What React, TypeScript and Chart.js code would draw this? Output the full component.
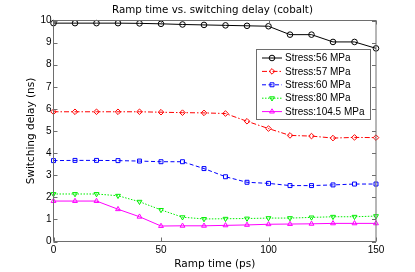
import React, { useEffect, useRef } from "react";
import { Chart, registerables } from "chart.js";
import { drawPoint } from "chart.js/helpers";

Chart.register(...registerables);

const rampTimes = [0, 10, 20, 30, 40, 50, 60, 70, 80, 90, 100, 110, 120, 130, 140, 150];
const stress56 = [9.88, 9.88, 9.88, 9.88, 9.87, 9.85, 9.82, 9.8, 9.78, 9.76, 9.74, 9.36, 9.36, 9.03, 9.03, 8.74];
const stress57 = [5.87, 5.87, 5.87, 5.87, 5.87, 5.85, 5.83, 5.82, 5.79, 5.44, 5.11, 4.8, 4.77, 4.68, 4.71, 4.7];
const stress60 = [3.66, 3.67, 3.67, 3.66, 3.64, 3.61, 3.61, 3.3, 2.93, 2.68, 2.63, 2.53, 2.53, 2.56, 2.6, 2.6];
const stress80 = [2.15, 2.15, 2.15, 2.07, 1.8, 1.43, 1.1, 1.02, 1.03, 1.04, 1.06, 1.06, 1.09, 1.12, 1.12, 1.15];
const stress104 = [1.83, 1.83, 1.83, 1.46, 1.12, 0.7, 0.71, 0.71, 0.73, 0.75, 0.78, 0.79, 0.8, 0.82, 0.82, 0.82];
const seriesLabels = ["Stress:56 MPa", "Stress:57 MPa", "Stress:60 MPa", "Stress:80 MPa", "Stress:104.5 MPa"];
const yTicks = [0, 1, 2, 3, 4, 5, 6, 7, 8, 9, 10];
const xTicks = [0, 50, 100, 150];
const titleText = "Ramp time vs. switching delay (cobalt)";
const xTitle = "Ramp time (ps)";
const yTitle = "Switching delay (ns)";

const styles = [
  { color: "#000000", dash: [] as number[], point: "circle", rot: 0 },
  { color: "#ff0000", dash: [5, 2, 1.5, 2], point: "rectRot", rot: 0 },
  { color: "#0000ff", dash: [4, 2.5], point: "rect", rot: 0 },
  { color: "#00ee00", dash: [1.5, 1.5], point: "triangle", rot: 180 },
  { color: "#ff00ff", dash: [] as number[], point: "triangle", rot: 0 },
];
const seriesValues = [stress56, stress57, stress60, stress80, stress104];

const AXIS = "#6e6e6e";

const boxPlugin = {
  id: "boxPlugin",
  afterDatasetsDraw(chart: any) {
    const { ctx, chartArea } = chart;
    const { left, right, top, bottom } = chartArea;
    const xs = chart.scales.x;
    const ys = chart.scales.y;
    ctx.save();
    ctx.strokeStyle = AXIS;
    ctx.lineWidth = 1;
    ctx.setLineDash([]);
    ctx.beginPath();
    ctx.rect(left, top, right - left, bottom - top);
    ctx.stroke();
    const tl = 4;
    ctx.beginPath();
    yTicks.forEach((v) => {
      const y = Math.round(ys.getPixelForValue(v)) + 0.5;
      ctx.moveTo(left, y);
      ctx.lineTo(left + tl, y);
      ctx.moveTo(right, y);
      ctx.lineTo(right - tl, y);
    });
    xTicks.forEach((v) => {
      const x = Math.round(xs.getPixelForValue(v)) + 0.5;
      ctx.moveTo(x, bottom);
      ctx.lineTo(x, bottom - tl);
      ctx.moveTo(x, top);
      ctx.lineTo(x, top + tl);
    });
    ctx.stroke();

    // title, sized to the reference's width
    ctx.fillStyle = "#000";
    ctx.font = "10px 'DejaVu Sans', sans-serif";
    const w10 = ctx.measureText(titleText).width;
    const size = Math.min(11, (10 * 201) / w10);
    ctx.font = `${size.toFixed(2)}px 'DejaVu Sans', sans-serif`;
    ctx.textAlign = "center";
    ctx.textBaseline = "middle";
    ctx.fillText(titleText, 212.5, 10);

    // legend
    const lx = 256.5, ly = 49.5, lw = 114, lh = 70;
    ctx.fillStyle = "#ffffff";
    ctx.fillRect(lx, ly, lw, lh);
    ctx.strokeStyle = AXIS;
    ctx.strokeRect(lx, ly, lw, lh);
    ctx.font = "10px 'Liberation Sans', Arial, sans-serif";
    ctx.textBaseline = "middle";
    ctx.textAlign = "left";
    seriesLabels.forEach((lab, i) => {
      const st = styles[i];
      const y = 58 + i * 13.4;
      ctx.strokeStyle = st.color;
      ctx.lineWidth = 1;
      ctx.setLineDash(st.dash);
      ctx.beginPath();
      ctx.moveTo(262, y);
      ctx.lineTo(282, y);
      ctx.stroke();
      ctx.setLineDash([]);
      ctx.fillStyle = "rgba(0,0,0,0)";
      ctx.strokeStyle = st.color;
      drawPoint(ctx, { pointStyle: st.point, radius: 2.8, rotation: st.rot, borderWidth: 1 } as any, 272, y);
      ctx.fillStyle = "#000";
      ctx.fillText(lab, 285, y + 0.5);
    });
    ctx.restore();
  },
};

export default function App() {
  const ref = useRef<HTMLCanvasElement>(null);
  useEffect(() => {
    document.body.style.margin = "0";
    const c = ref.current!;
    const datasets = seriesValues.map((vals, i) => ({
      label: seriesLabels[i],
      data: vals.map((v, j) => ({ x: rampTimes[j], y: v })),
      borderColor: styles[i].color,
      backgroundColor: "rgba(0,0,0,0)",
      pointBackgroundColor: "rgba(0,0,0,0)",
      pointBorderColor: styles[i].color,
      borderWidth: 1,
      borderDash: styles[i].dash,
      pointStyle: styles[i].point,
      pointRotation: styles[i].rot,
      pointRadius: 2.8,
      pointBorderWidth: 1,
      tension: 0,
      clip: false as any,
    }));
    const chart = new Chart(c, {
      type: "line",
      data: { datasets },
      options: {
        animation: false,
        responsive: false,
        maintainAspectRatio: false,
        layout: { padding: { left: 0, right: 39, top: 20.5, bottom: 0 } },
        plugins: {
          legend: { display: false },
          tooltip: { enabled: false },
          title: { display: false },
        },
        scales: {
          x: {
            type: "linear",
            min: 0,
            max: 150,
            afterBuildTicks: (s: any) => {
              s.ticks = xTicks.map((v) => ({ value: v }));
            },
            grid: { display: false, drawTicks: false },
            border: { display: false },
            ticks: {
              color: "#000",
              font: { family: "'Liberation Sans', Arial, sans-serif", size: 10 },
              padding: 3,
              maxRotation: 0,
              autoSkip: false,
            },
            title: {
              display: true,
              text: xTitle,
              color: "#000",
              font: { family: "'DejaVu Sans', sans-serif", size: 10.5, lineHeight: 1.2 },
              padding: { top: 0, bottom: 1 },
            },
            afterFit: (s: any) => {
              s.height = 30.5;
            },
          },
          y: {
            type: "linear",
            min: 0,
            max: 10,
            afterBuildTicks: (s: any) => {
              s.ticks = yTicks.map((v) => ({ value: v }));
            },
            grid: { display: false, drawTicks: false },
            border: { display: false },
            ticks: {
              color: "#000",
              font: { family: "'Liberation Sans', Arial, sans-serif", size: 10 },
              padding: 2,
              autoSkip: false,
            },
            title: {
              display: true,
              text: yTitle,
              color: "#000",
              font: { family: "'DejaVu Sans', sans-serif", size: 10.5, lineHeight: 1.2 },
              padding: { top: 25, bottom: 0 },
            },
            afterFit: (s: any) => {
              s.width = 53.5;
            },
          },
        },
      },
      plugins: [boxPlugin],
    });
    return () => chart.destroy();
  }, []);
  return (
    <div style={{ position: "absolute", left: 0, top: 0, width: 415, height: 272, background: "#fff" }}>
      <canvas ref={ref} width={415} height={272} style={{ width: 415, height: 272 }} />
    </div>
  );
}
